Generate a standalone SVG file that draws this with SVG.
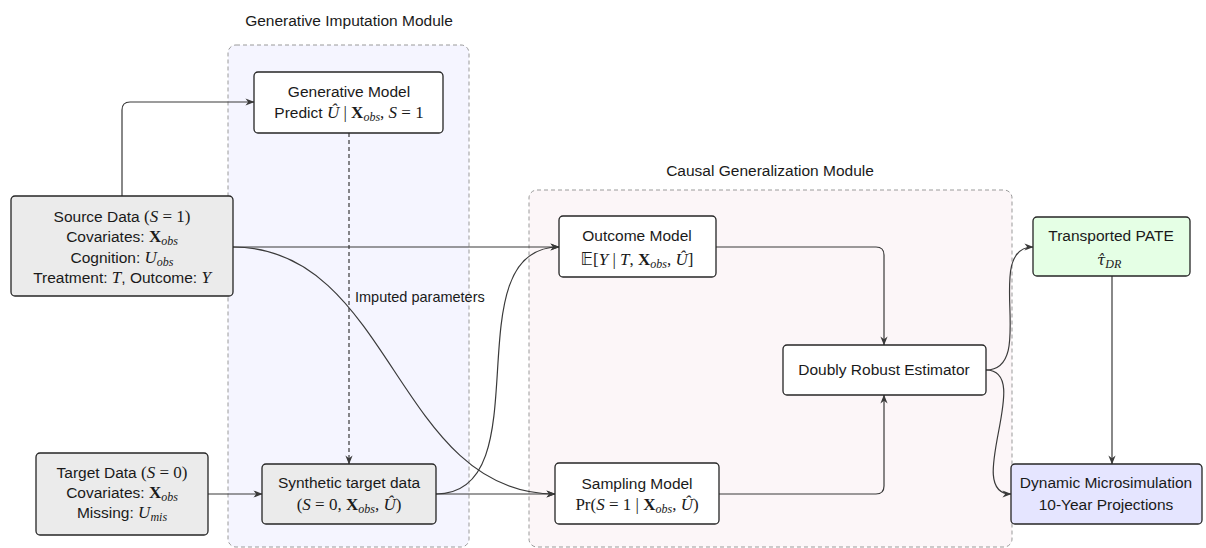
<svg xmlns="http://www.w3.org/2000/svg" width="1206" height="548" viewBox="0 0 1206 548">
  <defs>
    <style>
      .t { font-family: "Liberation Sans", "DejaVu Sans", sans-serif; font-size: 15.5px; fill: #1a1a1a; text-anchor: middle; }
      .cap { font-family: "Liberation Sans", "DejaVu Sans", sans-serif; font-size: 15.5px; fill: #1a1a1a; text-anchor: middle; }
      .lbl { font-family: "Liberation Sans", "DejaVu Sans", sans-serif; font-size: 14.5px; fill: #1a1a1a; }
      .m { font-family: "Liberation Serif", "DejaVu Serif", serif; font-size: 17px; }
      .i { font-style: italic; }
      .b { font-weight: bold; font-style: normal; }
      .sub { font-family: "Liberation Serif", "DejaVu Serif", serif; font-style: italic; font-size: 12px; }
      .bb { font-family: "DejaVu Sans", "DejaVu Serif", serif; font-style: normal; }
      .module { stroke: #9a9a9a; stroke-width: 1; stroke-dasharray: 4 3; }
      .node { stroke: #262626; stroke-width: 1.3; }
      .plain { fill: #ffffff; }
      .data { fill: #ebebeb; }
      .edge { fill: none; stroke: #3a3a3a; stroke-width: 1.2; }
      .dash { stroke-dasharray: 4 3; }
    </style>
    <marker id="arr" viewBox="0 0 10 8" refX="9.5" refY="4" markerWidth="9" markerHeight="7.2" markerUnits="userSpaceOnUse" orient="auto">
      <path d="M0,0 L10,4 L0,8 L3,4 Z" fill="#3a3a3a"/>
    </marker>
  </defs>

  <!-- module frames -->
  <g id="module-imputation">
    <rect class="module" x="228" y="45" width="241" height="502" rx="8" fill="#f5f5ff"/>
    <text class="cap" x="349" y="26">Generative Imputation Module</text>
  </g>
  <g id="module-generalization">
    <rect class="module" x="529" y="190" width="483" height="357" rx="8" fill="#fcf6f8"/>
    <text class="cap" x="770" y="176">Causal Generalization Module</text>
  </g>

  <!-- connectors -->
  <g id="connectors">
    <path class="edge" d="M122,196 L122,110 Q122,102 130,102 L254,102" marker-end="url(#arr)"/>
    <path class="edge" d="M233,247 L559,247" marker-end="url(#arr)"/>
    <path class="edge" d="M233,247 C392,247 396,494 555,494" marker-end="url(#arr)"/>
    <path class="edge" d="M208,494 L262,494" marker-end="url(#arr)"/>
    <path class="edge" d="M436,494 L555,494" marker-end="url(#arr)"/>
    <path class="edge" d="M436,494 C544,494 451,247 559,247" marker-end="url(#arr)"/>
    <path class="edge dash" d="M349,133 L349,464" marker-end="url(#arr)"/>
    <text class="lbl" x="355" y="302">Imputed parameters</text>
    <path class="edge" d="M716,247 L876,247 Q884,247 884,255 L884,345" marker-end="url(#arr)"/>
    <path class="edge" d="M719,494 L876,494 Q884,494 884,486 L884,395" marker-end="url(#arr)"/>
    <path class="edge" d="M986,370 C1038,370 982,247 1033,247" marker-end="url(#arr)"/>
    <path class="edge" d="M986,370 C1035,370 962,494 1011,494" marker-end="url(#arr)"/>
    <path class="edge" d="M1112,276 L1112,464" marker-end="url(#arr)"/>
  </g>

  <!-- nodes -->
  <g id="source-data">
    <rect class="node data" x="11" y="196" width="222" height="100" rx="4"/>
    <text class="t" x="122" y="222">Source Data <tspan class="m">(<tspan class="i">S</tspan> = 1)</tspan></text>
    <text class="t" x="122" y="242">Covariates: <tspan class="m b">X</tspan><tspan class="sub" dy="3">obs</tspan></text>
    <text class="t" x="122" y="263">Cognition: <tspan class="m i">U</tspan><tspan class="sub" dy="3">obs</tspan></text>
    <text class="t" x="122" y="283">Treatment: <tspan class="m i">T</tspan>, Outcome: <tspan class="m i">Y</tspan></text>
  </g>

  <g id="target-data">
    <rect class="node data" x="36" y="453" width="172" height="82" rx="4"/>
    <text class="t" x="122" y="478">Target Data <tspan class="m">(<tspan class="i">S</tspan> = 0)</tspan></text>
    <text class="t" x="122" y="498">Covariates: <tspan class="m b">X</tspan><tspan class="sub" dy="3">obs</tspan></text>
    <text class="t" x="122" y="518">Missing: <tspan class="m i">U</tspan><tspan class="sub" dy="3">mis</tspan></text>
  </g>

  <g id="generative-model">
    <rect class="node plain" x="254" y="72" width="189" height="61" rx="4"/>
    <text class="t" x="349" y="97">Generative Model</text>
    <text class="t" x="349" y="118">Predict <tspan class="m i">Û</tspan><tspan class="m"> | </tspan><tspan class="m b">X</tspan><tspan class="sub" dy="3">obs</tspan><tspan class="m" dy="-3">, </tspan><tspan class="m i">S</tspan><tspan class="m"> = 1</tspan></text>
  </g>

  <g id="synthetic-target">
    <rect class="node data" x="262" y="464" width="174" height="60" rx="4"/>
    <text class="t" x="349" y="488">Synthetic target data</text>
    <text class="t" x="349" y="510"><tspan class="m">(<tspan class="i">S</tspan> = 0, </tspan><tspan class="m b">X</tspan><tspan class="sub" dy="3">obs</tspan><tspan class="m" dy="-3">, </tspan><tspan class="m i">Û</tspan><tspan class="m">)</tspan></text>
  </g>

  <g id="outcome-model">
    <rect class="node plain" x="559" y="216" width="157" height="61" rx="4"/>
    <text class="t" x="637" y="241">Outcome Model</text>
    <text class="t" x="637" y="265"><tspan class="m bb">𝔼</tspan><tspan class="m">[</tspan><tspan class="m i">Y</tspan><tspan class="m"> | </tspan><tspan class="m i">T</tspan><tspan class="m">, </tspan><tspan class="m b">X</tspan><tspan class="sub" dy="3">obs</tspan><tspan class="m" dy="-3">, </tspan><tspan class="m i">Û</tspan><tspan class="m">]</tspan></text>
  </g>

  <g id="sampling-model">
    <rect class="node plain" x="555" y="463" width="164" height="61" rx="4"/>
    <text class="t" x="637" y="489">Sampling Model</text>
    <text class="t" x="637" y="510"><tspan class="m">Pr(</tspan><tspan class="m i">S</tspan><tspan class="m"> = 1 | </tspan><tspan class="m b">X</tspan><tspan class="sub" dy="3">obs</tspan><tspan class="m" dy="-3">, </tspan><tspan class="m i">Û</tspan><tspan class="m">)</tspan></text>
  </g>

  <g id="doubly-robust">
    <rect class="node plain" x="783" y="345" width="203" height="50" rx="4"/>
    <text class="t" x="884" y="375">Doubly Robust Estimator</text>
  </g>

  <g id="transported-pate">
    <rect class="node" x="1033" y="217" width="157" height="59" rx="4" fill="#e5ffe5"/>
    <text class="t" x="1111" y="241">Transported PATE</text>
    <!-- tau with combining hat and DR subscript -->
    <text x="1097" y="265" fill="#1a1a1a" font-family="'DejaVu Serif', serif" font-style="italic" font-size="15">τ̂<tspan class="sub" dy="3">DR</tspan></text>
  </g>

  <g id="microsimulation">
    <rect class="node" x="1011" y="464" width="191" height="60" rx="4" fill="#e5e5ff"/>
    <text class="t" x="1106" y="488">Dynamic Microsimulation</text>
    <text class="t" x="1106" y="510">10-Year Projections</text>
  </g>
</svg>
